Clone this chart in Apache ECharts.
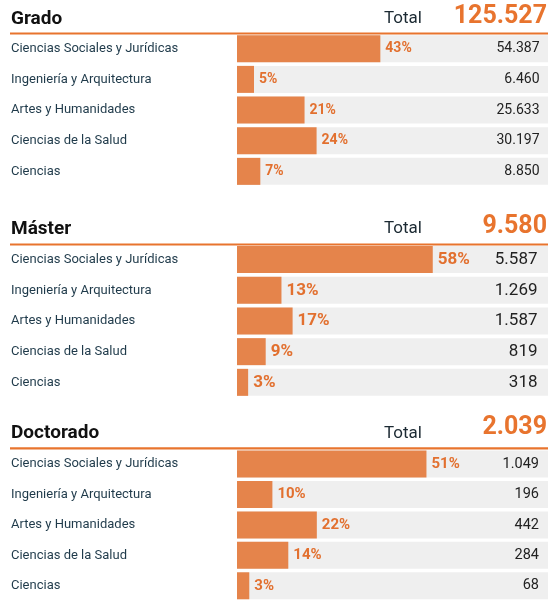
<!DOCTYPE html>
<html>
<head>
<meta charset="utf-8">
<script src="https://cdn.jsdelivr.net/npm/echarts@6/dist/echarts.min.js"></script>
<style>html,body{margin:0;padding:0;background:#fff}#c{width:548px;height:601px}</style>
</head>
<body>
<div id="c"></div>
<script>
const categories = ['Ciencias Sociales y Jurídicas', 'Ingeniería y Arquitectura', 'Artes y Humanidades', 'Ciencias de la Salud', 'Ciencias'];
const sectionTitles = ['Grado', 'Máster', 'Doctorado'];
const totalLabel = 'Total';
const gradoValues = [54387, 6460, 25633, 30197, 8850];
const gradoPct = [43, 5, 21, 24, 7];
const masterValues = [5587, 1269, 1587, 819, 318];
const masterPct = [58, 13, 17, 9, 3];
const doctoradoValues = [1049, 196, 442, 284, 68];
const doctoradoPct = [51, 10, 22, 14, 3];

const sectionValues = [gradoValues, masterValues, doctoradoValues];
const sectionPct = [gradoPct, masterPct, doctoradoPct];

// layout (positions / styles only)
const layout = [
  { top: 33.4, height: 153.3, axisMax: 118000, lineY: 33.5, headY: 18.8, numY: 16.5, pctSize: 14, valSize: 14, valX: 539.5 },
  { top: 244.2, height: 153.5, axisMax: 8876, lineY: 244.5, headY: 228.8, numY: 226.5, pctSize: 17, valSize: 17, valX: 537.5 },
  { top: 448.8, height: 153.8, axisMax: 1722, lineY: 448.3, headY: 433.4, numY: 427.8, pctSize: 15, valSize: 14.5, valX: 539 }
];

const FONT = 'Roboto';
const ORANGE = '#E8742E';
const BAR = '#E5844B';
const PCT = '#E2702F';
const CAT = '#1F3A4A';

function fmt(n) { return String(n).replace(/\B(?=(\d{3})+(?!\d))/g, '.'); }

const grids = [], xAxes = [], yAxes = [], series = [], graphics = [];
sectionValues.forEach((vals, i) => {
  const L = layout[i];
  const pct = sectionPct[i];
  const total = vals.reduce((a, b) => a + b, 0);
  grids.push({ left: 237, right: 0, top: L.top, height: L.height, containLabel: false });
  xAxes.push({ type: 'value', gridIndex: i, min: 0, max: L.axisMax, show: false });
  yAxes.push({
    type: 'category', gridIndex: i, data: categories, inverse: true,
    axisLine: { show: false }, axisTick: { show: false }, splitLine: { show: false },
    axisLabel: { align: 'left', margin: 226, color: CAT, fontFamily: FONT, fontSize: 13 }
  });
  series.push({
    type: 'bar', xAxisIndex: i, yAxisIndex: i, data: vals, barWidth: 27, barGap: '-100%',
    itemStyle: { color: BAR },
    showBackground: true, backgroundStyle: { color: '#EFEFEF' },
    label: {
      show: true, position: 'right', distance: 5, color: PCT, fontFamily: FONT,
      fontWeight: 'bold', fontSize: L.pctSize,
      formatter: p => pct[p.dataIndex] + '%'
    },
    silent: true, animation: false, z: 2
  });
  // invisible overlay series carrying the absolute value labels on the right
  series.push({
    type: 'bar', xAxisIndex: i, yAxisIndex: i, data: vals, barWidth: 27, barGap: '-100%',
    itemStyle: { color: 'rgba(0,0,0,0)' },
    label: {
      show: true, position: 'insideLeft', color: '#222', fontFamily: FONT, fontSize: L.valSize,
      formatter: p => fmt(p.value)
    },
    labelLayout: () => ({ x: L.valX, align: 'right', verticalAlign: 'middle' }),
    silent: true, animation: false, z: 3
  });
  graphics.push({
    type: 'line', shape: { x1: 10, y1: L.lineY, x2: 548, y2: L.lineY },
    style: { stroke: ORANGE, lineWidth: 2.2 }, silent: true, z: 10
  });
  graphics.push({
    type: 'text', x: 11, y: L.headY,
    style: { text: sectionTitles[i], fill: '#111', fontFamily: FONT, fontWeight: 'bold', fontSize: 19, align: 'left', verticalAlign: 'middle' }
  });
  graphics.push({
    type: 'text', x: 422, y: L.headY,
    style: { text: totalLabel, fill: '#1c2a33', fontFamily: FONT, fontSize: 17, align: 'right', verticalAlign: 'middle' }
  });
  graphics.push({
    type: 'text', x: 547, y: L.numY,
    style: { text: fmt(total), fill: ORANGE, fontFamily: FONT, fontWeight: 'bold', fontSize: 25, align: 'right', verticalAlign: 'middle' }
  });
});

const chart = echarts.init(document.getElementById('c'), null, { renderer: 'canvas' });
chart.setOption({
  animation: false,
  grid: grids, xAxis: xAxes, yAxis: yAxes, series: series, graphic: graphics
});
</script>
</body>
</html>
